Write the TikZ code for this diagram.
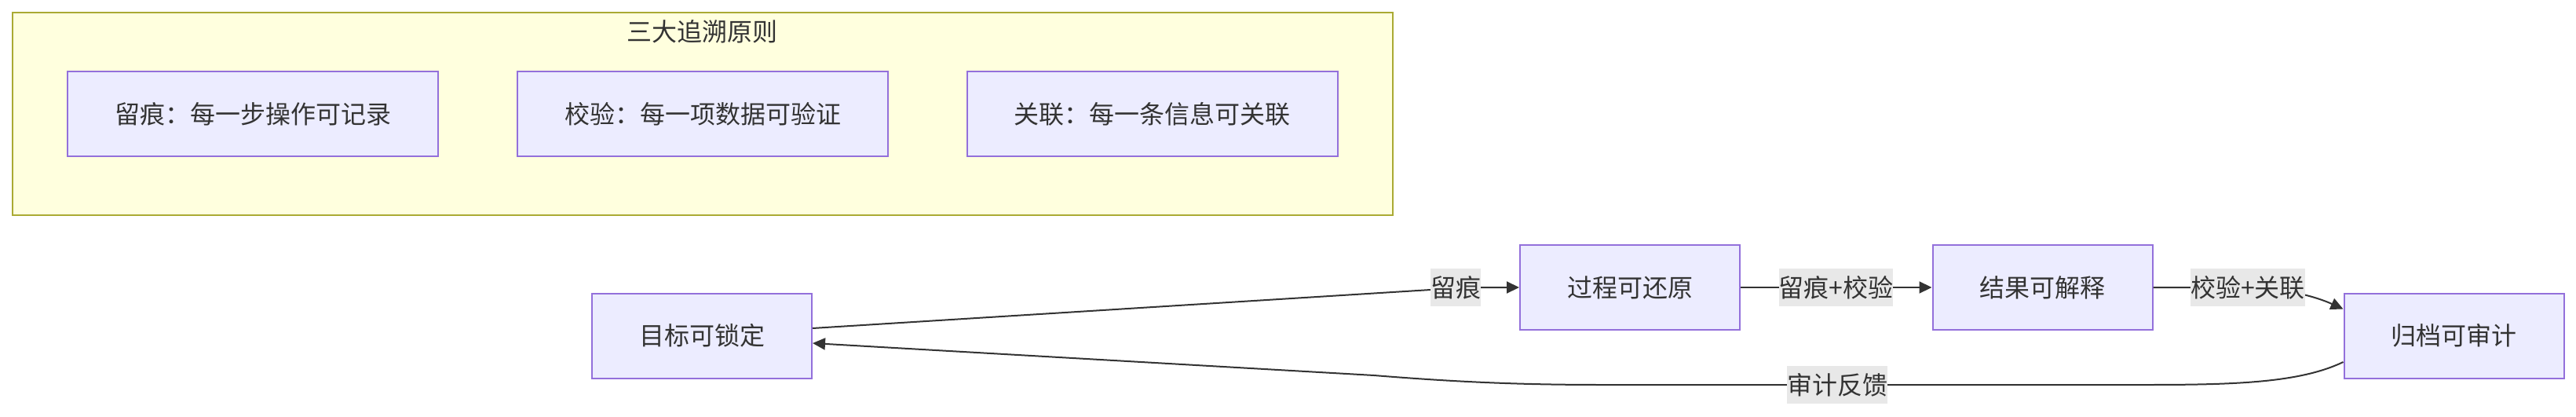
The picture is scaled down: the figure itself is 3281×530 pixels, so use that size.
\documentclass[tikz,border=0pt]{standalone}
\usepackage{fontspec}
\setmainfont{Noto Sans CJK SC}
\usetikzlibrary{arrows.meta}
\definecolor{nodefill}{HTML}{ECECFF}
\definecolor{nodeline}{HTML}{9370DB}
\definecolor{clusterfill}{HTML}{FFFFDE}
\definecolor{clusterline}{HTML}{AAAA33}
\definecolor{txt}{HTML}{333333}
\definecolor{lblbg}{HTML}{E8E8E8}
\tikzset{
  base/.style={text=txt},
  procbox/.style={draw=nodeline, fill=nodefill, line width=2pt, minimum width=280pt, minimum height=108pt, inner sep=0pt, text=txt},
  rulebox/.style={draw=nodeline, fill=nodefill, line width=2pt, minimum width=472pt, minimum height=108pt, inner sep=0pt, text=txt},
  clusterbox/.style={draw=clusterline, fill=clusterfill, line width=2pt},
  elabel/.style={fill=lblbg, inner xsep=0pt, inner ysep=0pt, minimum height=48pt, text=txt},
  edge/.style={draw=txt, line width=2pt, -{Triangle[length=16pt,width=15pt]}},
}
\begin{document}
\begin{tikzpicture}[x=1pt,y=-1pt, font=\fontsize{32}{38}\selectfont]
\useasboundingbox (0,0) rectangle (3281,530);
% cluster
\draw[clusterbox] (16,16) rectangle (1774,274);
\node[text=txt] (title) at (894,40) {三大追溯原则};
\node[rulebox] (r1) at (322,145) {留痕：每一步操作可记录};
\node[rulebox] (r2) at (895,145) {校验：每一项数据可验证};
\node[rulebox] (r3) at (1467.5,145) {关联：每一条信息可关联};
% flow nodes
\node[procbox] (a) at (894,427.5) {目标可锁定};
\node[procbox] (b) at (2076,366) {过程可还原};
\node[procbox] (c) at (2601.5,366) {结果可解释};
\node[procbox] (d) at (3125.5,427.5) {归档可审计};
% edge label positions
\coordinate (p1) at (1854,366);
\coordinate (p2) at (2338.5,366);
\coordinate (p3) at (2863,366);
\coordinate (p4) at (2340,490);
% edges
\draw[edge] ([yshift=9.5pt]a.east) -- (1822,369) -- (p1) -- (b.west);
\draw[edge] (c.west -| b.east) -- (p2) -- (c.west);
\draw[edge] (c.east) -- (p3) .. controls (2915,368) and (2950,378) .. ([yshift=-21pt]d.north west);
\draw[edge] ([yshift=-33.5pt]d.west) .. controls (2930,487) and (2850,490) .. (2735,490) -- (p4) -- (2040,490) .. controls (1930,490) and (1850,486) .. (1750,478) -- ([yshift=-9.5pt]a.east);
% labels
\node[elabel] (l1) at (p1) {留痕};
\node[elabel] (l2) at (p2) {留痕+校验};
\node[elabel] (l3) at (p3) {校验+关联};
\node[elabel] (l4) at (p4) {审计反馈};
\end{tikzpicture}
\end{document}
